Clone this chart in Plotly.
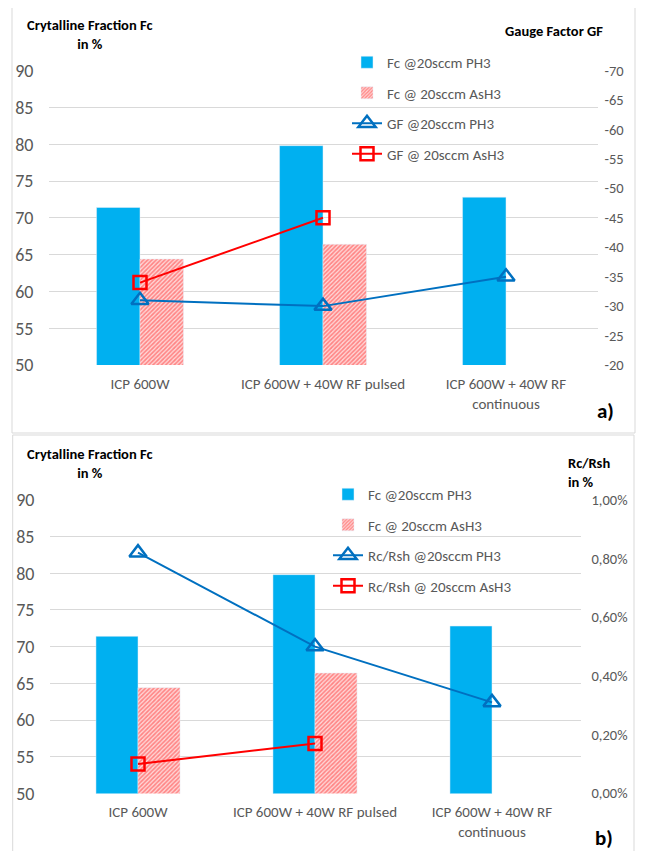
import plotly.graph_objects as go

# ---------------- data ----------------
categories = ["ICP 600W", "ICP 600W + 40W RF pulsed", "ICP 600W + 40W RF<br>continuous"]
fc_ph3 = [71.4, 79.8, 72.8]
fc_ash3 = [64.4, 66.4, None]
gf_ph3 = [-31.0, -30.0, -35.0]
gf_ash3 = [-34.0, -45.0, None]
rc_ph3 = [0.0082, 0.0050, 0.0031]
rc_ash3 = [0.0010, 0.0017, None]
gf_tickvals = [-70, -65, -60, -55, -50, -45, -40, -35, -30, -25, -20]
gf_ticktext = ["-70", "-65", "-60", "-55", "-50", "-45", "-40", "-35", "-30", "-25", "-20"]

# ---------------- style ----------------
PAGE_W, PAGE_H = 645, 859
OFF = 8  # default page body margin
W, H = PAGE_W - 2 * OFF, PAGE_H - 2 * OFF
FONT = "Carlito, Lato, sans-serif"
GREY = "#595959"
GRID = "#D9D9D9"
BLUE_BAR = "#00B0F0"
BLUE_LINE = "#0070C0"
RED = "#FF0000"


def px(x):
    return (x - OFF) / W


def py(y):
    return 1 - (y - OFF) / H


hatch = dict(shape="/", fgcolor="#FF3030", bgcolor="#FFD8D8", size=3, solidity=0.55)

tri = dict(symbol="triangle-up-open", size=15, color=BLUE_LINE, line=dict(width=2.5, color=BLUE_LINE))
sq = dict(symbol="square-open", size=13, color=RED, line=dict(width=2.5, color=RED))

fig = go.Figure()

# panel a
fig.add_trace(go.Bar(x=categories, y=fc_ph3, name="Fc @20sccm PH3", marker=dict(color=BLUE_BAR),
                     xaxis="x", yaxis="y", offsetgroup="1", legend="legend", legendgroup="a1"))
fig.add_trace(go.Bar(x=categories, y=fc_ash3, name="Fc @ 20sccm AsH3",
                     marker=dict(color="#FFD8D8", pattern=hatch),
                     xaxis="x", yaxis="y", offsetgroup="2", legend="legend", legendgroup="a2"))
fig.add_trace(go.Scatter(x=categories, y=gf_ph3, name="GF @20sccm PH3", mode="lines+markers",
                         line=dict(color=BLUE_LINE, width=2), marker=tri,
                         xaxis="x", yaxis="y2", legend="legend", legendgroup="a3"))
fig.add_trace(go.Scatter(x=categories, y=gf_ash3, name="GF @ 20sccm AsH3", mode="lines+markers",
                         line=dict(color=RED, width=2), marker=sq,
                         xaxis="x", yaxis="y2", legend="legend", legendgroup="a4"))

# panel b
fig.add_trace(go.Bar(x=categories, y=fc_ph3, name="Fc @20sccm PH3", marker=dict(color=BLUE_BAR),
                     xaxis="x2", yaxis="y3", offsetgroup="1", legend="legend2", legendgroup="b1"))
fig.add_trace(go.Bar(x=categories, y=fc_ash3, name="Fc @ 20sccm AsH3",
                     marker=dict(color="#FFD8D8", pattern=hatch),
                     xaxis="x2", yaxis="y3", offsetgroup="2", legend="legend2", legendgroup="b2"))
fig.add_trace(go.Scatter(x=categories, y=rc_ph3, name="Rc/Rsh @20sccm PH3", mode="lines+markers",
                         line=dict(color=BLUE_LINE, width=2), marker=tri,
                         xaxis="x2", yaxis="y4", legend="legend2", legendgroup="b3"))
fig.add_trace(go.Scatter(x=categories, y=rc_ash3, name="Rc/Rsh @ 20sccm AsH3", mode="lines+markers",
                         line=dict(color=RED, width=2), marker=sq,
                         xaxis="x2", yaxis="y4", legend="legend2", legendgroup="b4"))

xcommon = dict(type="category", showgrid=False, showline=False, ticks="", ticklabelstandoff=8,
               automargin=False, tickfont=dict(family=FONT, size=15, color=GREY), fixedrange=True)
yleft = dict(range=[50, 90], dtick=5, showgrid=True, gridcolor=GRID, gridwidth=1, automargin=False,
             zeroline=False, showline=False, ticks="", ticklabelstandoff=14,
             tickfont=dict(family=FONT, size=18, color=GREY))
yright_font = dict(family=FONT, size=14.5, color=GREY)

legend_common = dict(bgcolor="rgba(0,0,0,0)", borderwidth=0, xanchor="left", yanchor="top",
                     font=dict(family=FONT, size=15, color=GREY), tracegroupgap=8,
                     itemwidth=30, traceorder="grouped")

fig.update_layout(
    width=W, height=H, autosize=False,
    margin=dict(l=0, r=0, t=0, b=0),
    paper_bgcolor="white", plot_bgcolor="white",
    separators=", ",
    barmode="group", bargap=0.525, bargroupgap=0,
    font=dict(family=FONT, color=GREY),
    xaxis=dict(domain=[px(48.5), px(597.5)], anchor="y", **xcommon),
    yaxis=dict(domain=[py(365), py(70.6)], anchor="x", **yleft),
    yaxis2=dict(overlaying="y", side="right", anchor="x", range=[-20, -70], automargin=False,
                tickvals=gf_tickvals, ticktext=gf_ticktext, showgrid=False, zeroline=False,
                ticks="", ticklabelstandoff=6, tickfont=yright_font),
    xaxis2=dict(domain=[px(49.5), px(580.5)], anchor="y3", **xcommon),
    yaxis3=dict(domain=[py(793.4), py(499.8)], anchor="x2", **yleft),
    yaxis4=dict(overlaying="y3", side="right", anchor="x2", range=[0, 0.01], dtick=0.002, automargin=False,
                tickformat=".2%", showgrid=False, zeroline=False, ticks="",
                ticklabelstandoff=10, tickfont=yright_font),
    legend=dict(x=px(347), y=py(46), **legend_common),
    legend2=dict(x=px(328), y=py(478), **legend_common),
    showlegend=True,
)

# panel borders
fig.add_shape(type="rect", xref="paper", yref="paper", x0=px(12), x1=px(635), y0=py(433), y1=py(4),
              line=dict(color=GRID, width=1), fillcolor="rgba(0,0,0,0)", layer="below")
fig.add_shape(type="rect", xref="paper", yref="paper", x0=px(12.7), x1=px(634), y0=py(875), y1=py(435),
              line=dict(color=GRID, width=1), fillcolor="rgba(0,0,0,0)", layer="below")

ann = [
    dict(text="<b>Crytalline Fraction Fc</b><br><b>in %</b>", x=px(90), y=py(34), align="center", xanchor="center"),
    dict(text="<b>Gauge Factor GF</b>", x=px(554), y=py(31), align="center", xanchor="center"),
    dict(text="<b>Crytalline Fraction Fc</b><br><b>in %</b>", x=px(90), y=py(463), align="center", xanchor="center"),
    dict(text="<b>Rc/Rsh</b><br><b>in %</b>", x=px(566), y=py(472), align="left", xanchor="left"),
]
for a in ann:
    fig.add_annotation(xref="paper", yref="paper", showarrow=False, yanchor="middle",
                       font=dict(family=FONT, size=14.5, color="black"), **a)
fig.add_annotation(text="<b>a)</b>", xref="paper", yref="paper", x=px(605), y=py(411), showarrow=False,
                   xanchor="center", yanchor="middle", font=dict(family=FONT, size=21, color="black"))
fig.add_annotation(text="<b>b)</b>", xref="paper", yref="paper", x=px(604), y=py(838), showarrow=False,
                   xanchor="center", yanchor="middle", font=dict(family=FONT, size=21, color="black"))

fig.write_html("out.html")
